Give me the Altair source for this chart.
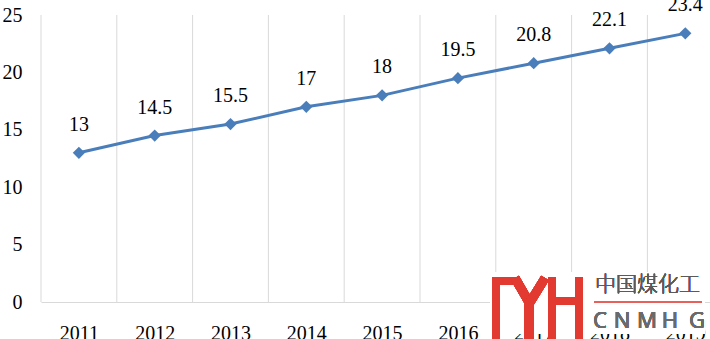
import altair as alt
import pandas as pd

years = [2011, 2012, 2013, 2014, 2015, 2016, 2017, 2018, 2019]
values = [13, 14.5, 15.5, 17, 18, 19.5, 20.8, 22.1, 23.4]
y_ticks = [0, 5, 10, 15, 20, 25]

df = pd.DataFrame({"year": years, "value": values})
grid_df = pd.DataFrame({"b": [y - 0.5 for y in years]})

LINE = "#4a7ebb"
SERIF = "Liberation Serif"
RED = "#e23a30"
OX, OY = 41, 15  # plot origin in page pixels
W = 710 - OX      # visible plot width; the last band is cut by the window edge
BAND = 75.8

xscale = alt.Scale(domain=[2010.5, 2010.5 + W / BAND], nice=False, zero=False)
yscale = alt.Scale(domain=[0, 25], nice=False)

xaxis = alt.Axis(values=years, format="d", grid=False, ticks=False,
                 domain=True, domainColor="#d9d9d9", domainWidth=1,
                 labelFont=SERIF, labelFontSize=20, labelColor="black",
                 labelPadding=21, labelAngle=0, labelFlush=False,
                 labelOverlap=False, labelBound=False)
yaxis = alt.Axis(values=y_ticks, grid=False, ticks=False, domain=False,
                 labelFont=SERIF, labelFontSize=20, labelColor="black",
                 labelPadding=19)

line = alt.Chart(df).mark_line(
    color=LINE, strokeWidth=3,
    point=alt.OverlayMarkDef(shape="diamond", size=150, filled=True, color=LINE, opacity=1),
).encode(
    x=alt.X("year:Q", scale=xscale, title=None, axis=xaxis),
    y=alt.Y("value:Q", scale=yscale, title=None, axis=yaxis),
)

grid = alt.Chart(grid_df).mark_rule(color="#d9d9d9", strokeWidth=1).encode(
    x=alt.X("b:Q", scale=xscale, title=None, axis=xaxis),
    y=alt.Y(datum=0, scale=yscale, axis=yaxis, title=None),
    y2=alt.Y2(datum=25),
)

labels = alt.Chart(df).mark_text(
    font=SERIF, fontSize=20, color="black", dy=-28, baseline="middle", align="center"
).encode(
    x=alt.X("year:Q", scale=xscale, title=None, axis=xaxis),
    y=alt.Y("value:Q", scale=yscale, title=None, axis=yaxis),
    text=alt.Text("value:Q"),
)


def seg(x1, y1, x2, y2, w, color=RED):
    return alt.Chart(df).mark_rule(color=color, strokeWidth=w, strokeCap="butt").encode(
        x=alt.value(x1 - OX), y=alt.value(y1 - OY),
        x2=alt.value(x2 - OX), y2=alt.value(y2 - OY),
    )


# white backing of the watermark (it hides the axis labels behind it)
backing = alt.Chart(df).mark_rect(color="white", opacity=0.92).encode(
    x=alt.value(490 - OX), x2=alt.value(705 - OX),
    y=alt.value(272 - OY), y2=alt.value(334 - OY),
)

logo_parts = [
    seg(496, 277, 496, 340, 8),
    seg(492, 281, 517, 281, 8),
    seg(515, 278, 530, 304, 9),
    seg(545, 278, 529, 304, 9),
    seg(529, 300, 529, 340, 10),
    seg(552, 277, 552, 340, 8),
    seg(579, 277, 579, 340, 8),
    seg(552, 301, 579, 301, 7),
    seg(594, 302, 702, 302, 2, "#e8605a"),
]

cn_text = alt.Chart(df).mark_text(
    text="中国煤化工", font="Noto Sans CJK SC", fontSize=21, color="#5a5a5a",
    align="left", baseline="middle", fontWeight=300,
).encode(x=alt.value(595 - OX), y=alt.value(285 - OY))

letters = []
for ch, cx in zip("CNMHG", [600, 622, 647, 670, 697]):
    letters.append(
        alt.Chart(df).mark_text(
            text=ch, font="Noto Sans", fontSize=22, color="#6a6a6a",
            align="center", baseline="middle",
        ).encode(x=alt.value(cx - OX), y=alt.value(321 - OY))
    )

chart = alt.layer(grid, line, labels, backing, *logo_parts, cn_text, *letters).properties(
    width=W, height=287,
    autosize=alt.AutoSizeParams(type="none"),
    padding={"left": OX, "top": OY, "right": 0, "bottom": 37},
    background="white",
).configure_view(stroke=None)

chart.save("out.html", embed_options={"renderer": "svg", "actions": False})
